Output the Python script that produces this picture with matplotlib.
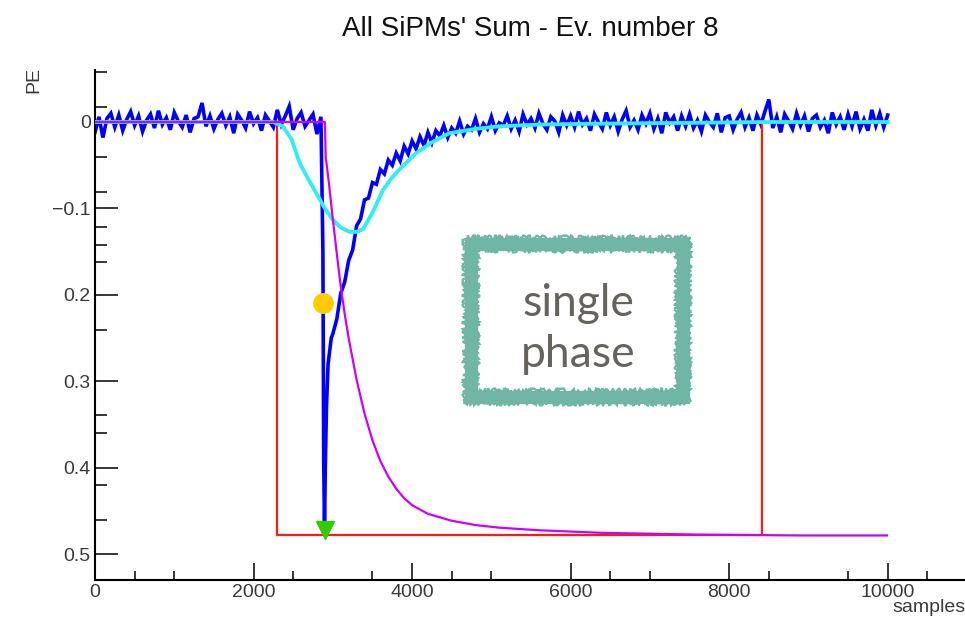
import numpy as np
import matplotlib
matplotlib.use("Agg")
import matplotlib.pyplot as plt
from matplotlib.patches import Rectangle

# ---------------- data ----------------
title = "All SiPMs' Sum - Ev. number 8"
x_label = "samples"
y_label = "PE"
x_ticks = [0, 2000, 4000, 6000, 8000, 10000]
x_tick_labels = ["0", "2000", "4000", "6000", "8000", "10000"]
y_ticks = [0.0, -0.1, -0.2, -0.3, -0.4, -0.5]
y_tick_labels = ["0", "\u22120.1", "0.2", "0.3", "0.4", "0.5"]

# blue waveform: baseline (0..2850 step 50), pulse, tail (3000..10000 step 50)
blue_base_y = [
    -0.012, 0.006, -0.018, 0.004, 0.010, -0.006, 0.008, -0.010, 0.003, 0.012,
    -0.004, 0.007, -0.011, 0.002, 0.009, -0.007, 0.013, -0.003, 0.005, -0.009,
    0.011, 0.001, -0.006, 0.008, -0.012, 0.004, 0.006, 0.022, -0.005, 0.007,
    -0.008, 0.003, 0.010, -0.004, 0.006, -0.013, 0.009, 0.002, -0.007, 0.012,
    -0.002, 0.005, -0.010, 0.008, 0.001, -0.006, 0.014, -0.003, 0.007, 0.018,
    -0.009, 0.004, 0.011, -0.005, 0.002, 0.009, -0.014, 0.006,
]
blue_pulse_x = [2875, 2885, 2895, 2905, 2920, 2940, 2960, 2980]
blue_pulse_y = [-0.15, -0.39, -0.47, -0.40, -0.33, -0.28, -0.265, -0.25]
blue_tail_y = [
    -0.245, -0.228, -0.198, -0.185, -0.160, -0.148, -0.120, -0.112, -0.090, -0.088,
    -0.070, -0.072, -0.055, -0.060, -0.044, -0.050, -0.036, -0.045, -0.028, -0.037,
    -0.022, -0.031, -0.017, -0.027, -0.012, -0.024, -0.010, -0.016, -0.004, -0.018,
    -0.007, -0.013, 0.001, -0.014, -0.005, -0.009, 0.004, -0.012, -0.002, -0.008,
    0.006, -0.010, -0.001, -0.004, 0.007, -0.008, 0.002, -0.011, 0.009, -0.003,
    0.004, -0.007, 0.010, -0.002, -0.009, 0.006, 0.001, -0.012, 0.008, -0.004,
    0.007, -0.006, 0.012, -0.003, 0.004, -0.010, 0.009, 0.000, -0.008, 0.011,
    -0.004, 0.006, -0.011, 0.003, 0.013, -0.006, 0.002, -0.009, 0.008, -0.002,
    0.010, -0.008, 0.004, -0.013, 0.011, -0.001, 0.006, -0.010, 0.007, -0.005,
    0.009, -0.007, 0.002, -0.011, 0.008, 0.000, -0.006, 0.010, -0.012, 0.005,
    0.007, -0.009, 0.003, 0.011, -0.006, 0.005, -0.010, 0.008, -0.003, 0.012,
    0.026, -0.007, 0.006, -0.012, 0.009, 0.001, -0.008, 0.010, -0.004, 0.007,
    -0.011, 0.004, 0.008, -0.006, 0.002, -0.013, 0.011, -0.003, 0.006, -0.009,
    0.009, -0.005, 0.012, -0.008, 0.003, -0.010, 0.014, -0.004, 0.010, -0.006,
    0.008,
]
blue_step = 50
blue_tail_start = 3000

# cyan fit
cyan_x = [0, 2250, 2370, 2480, 2580, 2690, 2790, 2900, 3000, 3100, 3210, 3300,
          3380, 3500, 3630, 3740, 3840, 4050, 4260, 4470, 4800, 5100, 5600,
          6300, 7500, 8500, 10000]
cyan_y = [0.0, 0.0, -0.005, -0.02, -0.047, -0.066, -0.082, -0.100, -0.113,
          -0.122, -0.127, -0.127, -0.124, -0.105, -0.079, -0.065, -0.055,
          -0.036, -0.023, -0.013, -0.008, -0.005, -0.003, -0.002, -0.001,
          0.0, 0.0]

# magenta integral
mag_x = [0, 2900, 2910, 2950, 3000, 3050, 3100, 3150, 3200, 3300, 3400, 3500,
         3600, 3700, 3800, 3900, 4000, 4200, 4500, 4800, 5100, 5600, 6400,
         7600, 8900, 9990]
mag_y = [0.0, 0.0, -0.04, -0.07, -0.112, -0.152, -0.19, -0.222, -0.25, -0.298,
         -0.337, -0.368, -0.392, -0.41, -0.424, -0.435, -0.443, -0.453, -0.461,
         -0.466, -0.469, -0.472, -0.475, -0.477, -0.478, -0.478]

# red gate
red_x = [0, 2300, 2300, 8420, 8420, 10000]
red_y = [0.0, 0.0, -0.4775, -0.4775, 0.0, 0.0]

# markers
yellow_pt = (2870, -0.209)
green_pt = (2897, -0.472)

box_text = "single\nphase"

# ---------------- figure ----------------
W, H = 965, 623
fig = plt.figure(figsize=(W / 100, H / 100), dpi=100)
fig.patch.set_facecolor("white")

def fx(px):
    return px / W

def fy(py):
    return 1 - py / H

ax_left, ax_right, ax_top, ax_bottom = 95, 967, 70, 580
ax = fig.add_axes([fx(ax_left), fy(ax_bottom), (ax_right - ax_left) / W,
                   (ax_bottom - ax_top) / H])
ax.set_xlim(0, 11000)
ax.set_ylim(-0.5295, 0.0601)

blue_base_x = np.arange(0, blue_step * len(blue_base_y), blue_step)
blue_tail_x = np.arange(blue_tail_start, blue_tail_start + blue_step * len(blue_tail_y), blue_step)
blue_x = np.concatenate([blue_base_x, blue_pulse_x, blue_tail_x])
blue_y = np.concatenate([blue_base_y, blue_pulse_y, blue_tail_y])

ax.plot(blue_x, blue_y, color="#0000ff", lw=2.6, zorder=2, solid_joinstyle="miter")
ax.plot(red_x, red_y, color="#ff1a10", lw=1.6, zorder=3)
ax.plot(cyan_x, cyan_y, color="#33eef0", lw=2.8, zorder=4)
ax.plot(mag_x, mag_y, color="#cc00ff", lw=1.6, zorder=5)
ax.plot([yellow_pt[0]], [yellow_pt[1]], marker="o", ms=14, color="#ffcc00",
        mec="#ffcc00", zorder=6)
ax.plot([green_pt[0]], [green_pt[1]], marker="v", ms=13, color="#33cc00",
        mec="#33cc00", zorder=6)

# axes style
for s in ["top", "right"]:
    ax.spines[s].set_visible(False)
for s in ["left", "bottom"]:
    ax.spines[s].set_linewidth(1.5)

ax.set_xticks(x_ticks)
ax.set_xticklabels(x_tick_labels)
ax.set_yticks(y_ticks)
ax.set_yticklabels(y_tick_labels)
ax.set_xticks([500, 1000, 2500, 3500, 4500, 5000, 6500, 7000, 8500, 9500, 10500], minor=True)
ax.set_yticks([0.058, 0.017, -0.040, -0.081, -0.121, -0.142, -0.162, -0.240,
               -0.339, -0.360, -0.420, -0.460], minor=True)
ax.tick_params(axis="both", which="both", direction="in", width=1.1,
               labelsize=14, colors="black", labelcolor="#3a3a3a")
ax.tick_params(axis="y", which="major", length=16.5, pad=3)
ax.tick_params(axis="y", which="minor", length=8.5)
ax.tick_params(axis="x", which="major", length=12, pad=3)
ax.tick_params(axis="x", which="minor", length=6.5)
for lab in ax.get_xticklabels() + ax.get_yticklabels():
    lab.set_family("Liberation Sans")

fig.text(fx(530), fy(29), title, ha="center", va="center", fontsize=20,
         family="Liberation Sans", color="#111111")
fig.text(fx(966), fy(607), x_label, ha="right", va="center", fontsize=14,
         family="Liberation Sans", color="#3a3a3a")
fig.text(fx(34), fy(80), y_label, ha="center", va="center", fontsize=14,
         rotation=90, family="Liberation Sans", color="#3a3a3a")

# "single phase" stamp
teal = "#70b6a4"
frame = Rectangle((fx(471), fy(397)), fx(683) - fx(471), fy(244) - fy(397),
                  transform=fig.transFigure, fill=False, edgecolor=teal,
                  lw=9.5, joinstyle="miter", zorder=10)
fig.add_artist(frame)
for (x0, y0, x1, y1) in [(465, 238, 689, 403), (477, 250, 677, 391)]:
    edge = Rectangle((fx(x0), fy(y1)), fx(x1) - fx(x0), fy(y0) - fy(y1),
                     transform=fig.transFigure, fill=False, edgecolor=teal,
                     lw=1.6, zorder=10)
    edge.set_sketch_params(scale=2.5, length=4, randomness=6)
    fig.add_artist(edge)
fig.text(fx(578), fy(329), box_text, ha="center", va="center", fontsize=32,
         family="Lato", color="#66625e", linespacing=1.3, zorder=11)

fig.savefig("out.png", dpi=100, facecolor="white")
